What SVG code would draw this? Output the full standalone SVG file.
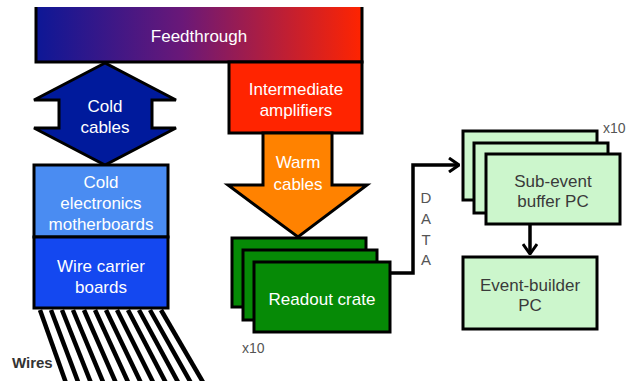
<svg xmlns="http://www.w3.org/2000/svg" width="631" height="381" viewBox="0 0 631 381">
<defs>
<linearGradient id="ft" x1="0" y1="0" x2="1" y2="0">
<stop offset="0" stop-color="#0d1796"/>
<stop offset="0.45" stop-color="#6a1878"/>
<stop offset="1" stop-color="#ff2400"/>
</linearGradient>
<marker id="chev" viewBox="0 0 12 16" refX="11" refY="8" markerWidth="12" markerHeight="16" markerUnits="userSpaceOnUse" orient="auto">
<path d="M1,1 L11,8 L1,15" fill="none" stroke="#000" stroke-width="3"/>
</marker>
<style>
.b{stroke:#000;stroke-width:3;stroke-linejoin:miter}
.w{font-family:"Liberation Sans",Arial,sans-serif;font-size:17px;fill:#fff;text-anchor:middle}
.d{font-family:"Liberation Sans",Arial,sans-serif;font-size:17px;fill:#3a3a3a;text-anchor:middle}
.s{font-family:"Liberation Sans",Arial,sans-serif;font-size:14px;fill:#555}
.conn{fill:none;stroke:#000;stroke-width:3.5}
.wire{stroke:#000;stroke-width:4.5}
</style>
</defs>
<rect width="631" height="381" fill="#fff"/>

<g id="feedthrough">
<rect x="36" y="7" width="326" height="55" fill="url(#ft)"/>
<path d="M36,7 V62 H362 V7" fill="none" stroke="#000" stroke-width="3"/>
<text class="w" x="199" y="42" fill="#f4e4f4">Feedthrough</text>
</g>

<g id="intermediate-amplifiers">
<rect class="b" x="229" y="62" width="133" height="71" fill="#ff2400"/>
<text class="w" x="296" y="95">Intermediate</text>
<text class="w" x="296" y="116">amplifiers</text>
</g>

<g id="cold-cables">
<path class="b" d="M105,63 L34,100 H59 V128 H34 L105,165 L176,128 H152 V100 H176 Z" fill="#001a9c"/>
<text class="w" x="105" y="112">Cold</text>
<text class="w" x="105" y="133">cables</text>
</g>

<g id="cold-electronics-motherboards">
<rect class="b" x="34" y="165" width="134" height="72" fill="#4a8cf2"/>
<text class="w" x="101" y="188">Cold</text>
<text class="w" x="101" y="209">electronics</text>
<text class="w" x="101" y="230">motherboards</text>
</g>

<g id="wire-carrier-boards">
<rect class="b" x="34" y="237" width="134" height="71" fill="#1448f0"/>
<text class="w" x="101" y="272">Wire carrier</text>
<text class="w" x="101" y="293">boards</text>
</g>

<g id="wires">
<line class="wire" x1="40" y1="310" x2="66" y2="383"/>
<line class="wire" x1="51" y1="310" x2="78.5" y2="383"/>
<line class="wire" x1="62" y1="310" x2="91" y2="383"/>
<line class="wire" x1="73" y1="310" x2="103.5" y2="383"/>
<line class="wire" x1="84" y1="310" x2="116" y2="383"/>
<line class="wire" x1="95" y1="310" x2="128.5" y2="383"/>
<line class="wire" x1="106" y1="310" x2="141" y2="383"/>
<line class="wire" x1="117" y1="310" x2="153.5" y2="383"/>
<line class="wire" x1="128" y1="310" x2="166" y2="383"/>
<line class="wire" x1="139" y1="310" x2="178.5" y2="383"/>
<line class="wire" x1="150" y1="310" x2="191" y2="383"/>
<line class="wire" x1="161" y1="310" x2="203.5" y2="383"/>
<text x="12" y="368" font-family="Liberation Sans, Arial, sans-serif" font-size="15" font-weight="bold" fill="#333">Wires</text>
</g>

<g id="warm-cables">
<path class="b" d="M263,133 H332 V185 H367 L298,237 L228,185 H263 Z" fill="#ff8200"/>
<text class="w" x="298" y="168">Warm</text>
<text class="w" x="298" y="190">cables</text>
</g>

<g id="readout-crate">
<rect class="b" x="232" y="238" width="134" height="69" fill="#068a06"/>
<rect class="b" x="243" y="250" width="134" height="70" fill="#068a06"/>
<rect class="b" x="254" y="262" width="136" height="70" fill="#068a06"/>
<text class="w" x="322" y="305">Readout crate</text>
<text class="s" x="242" y="353">x10</text>
</g>

<g id="sub-event-buffer-pc">
<rect class="b" x="463" y="131" width="134" height="69" fill="#ccf6cc"/>
<rect class="b" x="474" y="143" width="134" height="70" fill="#ccf6cc"/>
<rect class="b" x="486" y="154" width="134" height="70" fill="#ccf6cc"/>
<text class="d" x="553" y="187">Sub-event</text>
<text class="d" x="553" y="207">buffer PC</text>
<text class="s" x="603" y="133">x10</text>
</g>

<g id="event-builder-pc">
<rect class="b" x="463" y="257" width="134" height="72" fill="#ccf6cc"/>
<text class="d" x="530" y="291">Event-builder</text>
<text class="d" x="530" y="311">PC</text>
</g>

<g id="connectors">
<path class="conn" d="M390,273 H413 V165 H459" marker-end="url(#chev)"/>
<path class="conn" d="M530,224 V254" marker-end="url(#chev)"/>
<g font-family="Liberation Sans, Arial, sans-serif" font-size="15" fill="#555" text-anchor="middle">
<text x="426" y="203">D</text>
<text x="426" y="224">A</text>
<text x="426" y="245">T</text>
<text x="426" y="265">A</text>
</g>
</g>
</svg>
